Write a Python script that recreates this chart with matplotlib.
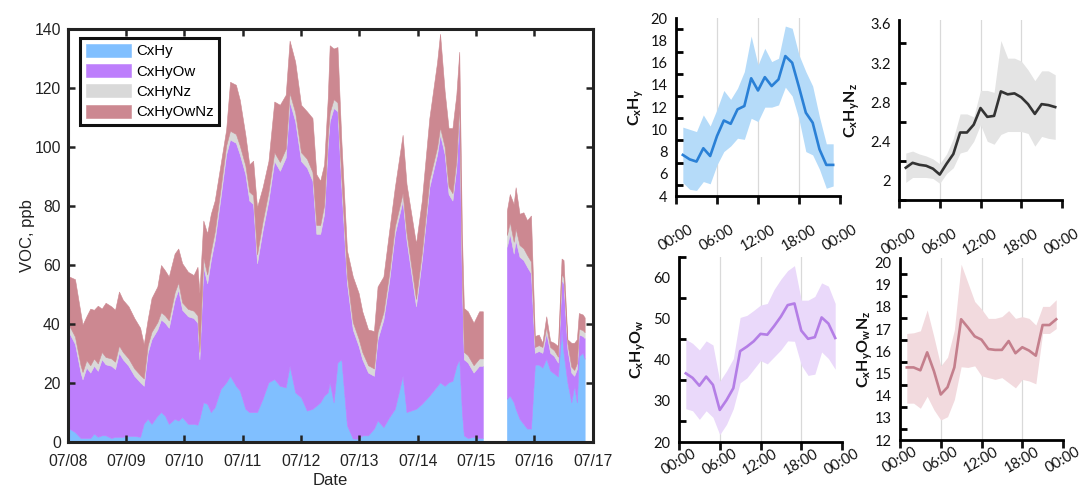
import numpy as np
import matplotlib
matplotlib.use('Agg')
import matplotlib.pyplot as plt
from matplotlib.ticker import MultipleLocator, FuncFormatter

nan = float('nan')

# ---------------- left panel: stacked VOC time series ----------------
hours = [0.8, 3.2, 5.5, 6.3, 7.9, 9.5, 11.0, 12.6, 14.2, 15.8, 18.1, 19.7, 21.3, 22.9,
         25.2, 27.6, 30.0, 31.5, 33.1, 34.7, 37.1, 38.6, 40.2, 41.8, 44.2, 45.7, 47.3,
         49.7, 52.0, 53.6, 54.4, 56.0, 57.6, 59.1, 60.7, 63.1, 65.4, 67.0, 69.4, 71.0,
         73.3, 74.9, 76.5, 78.1, 80.4, 82.8, 85.2, 87.5, 89.9, 91.5, 93.8, 96.2, 98.6,
         100.9, 102.5, 104.1, 105.7, 107.2, 108.0, 109.6, 111.2, 112.8, 115.1, 117.5,
         119.9, 121.4, 123.8, 126.2, 127.7, 130.1, 132.5, 134.8, 138.0, 139.6, 143.5,
         145.9, 149.0, 152.2, 153.4, 155.3, 156.9, 158.5, 160.1, 161.3, 162.4, 163.2,
         164.8, 167.2, 169.5, 171.0, 176.0, 180.9, 182.1, 183.7, 184.5, 186.1, 187.7,
         189.2, 190.8, 192.4, 194.0, 195.5, 197.1, 198.7, 200.3, 201.9, 203.4, 204.2,
         205.8, 207.4, 208.6, 209.7, 210.5, 212.1, 212.9]

cxhy = [4.3, 3.1, 1.1, 1.1, 1.1, 1.1, 2.6, 1.5, 2.0, 2.0, 1.1, 1.5, 1.5, 1.5,
        1.8, 1.8, 1.5, 6.0, 7.6, 5.9, 8.7, 9.9, 8.7, 5.9, 7.6, 7.0, 8.2,
        5.9, 5.9, 5.6, 7.6, 13.2, 12.7, 9.9, 11.6, 17.7, 20.0, 22.2, 18.8, 17.2,
        11.0, 9.9, 9.9, 9.9, 14.4, 20.0, 21.1, 18.8, 18.3, 25.6, 16.6, 14.9, 10.4,
        11.0, 12.1, 13.2, 15.5, 16.6, 20.0, 13.2, 26.7, 27.8, 5.4, 0.9,
        0.9, 2.0, 2.0, 4.3, 7.1, 4.8, 8.2, 11.0, 22.2, 9.9, 11.0,
        12.7, 15.5, 18.8, 20.0, 18.8, 20.0, 20.5, 25.6, 27.8, 9.9, 2.0,
        1.1, 1.5, 1.1, 1.1, nan, 14.4, 15.5, 13.2, 11.0, 7.6, 5.9,
        4.3, 4.3, 26.0, 26.0, 25.0, 28.0, 24.0, 23.0, 22.0, 37.9, 30.0,
        20.0, 13.2, 18.8, 13.2, 28.9, 30.0, 28.0]

cxhyow = [32.5, 29.9, 22.2, 19.9, 23.9, 22.2, 23.0, 22.4, 25.8, 24.1, 24.5, 23.0, 28.5, 26.3,
          23.8, 20.4, 18.5, 12.8, 22.4, 28.7, 29.2, 31.4, 31.5, 32.6, 40.4, 44.4, 36.4,
          36.5, 35.9, 34.6, 20.2, 46.0, 40.9, 51.6, 56.6, 65.1, 77.4, 80.2, 82.5, 80.2,
          79.6, 71.8, 70.6, 50.5, 57.2, 61.7, 74.0, 73.0, 78.0, 89.7, 92.0, 80.2, 82.5,
          77.4, 58.3, 57.2, 61.7, 84.1, 88.6, 99.9, 85.3, 58.4, 48.2, 37.0,
          31.4, 25.8, 21.3, 17.9, 27.5, 36.5, 46.5, 59.4, 59.5, 58.3, 34.8,
          48.8, 70.7, 78.6, 84.1, 78.6, 63.9, 61.2, 67.3, 84.2, 43.7, 25.8,
          25.6, 21.8, 24.5, 24.5, nan, 51.6, 54.9, 50.5, 57.2, 55.0, 55.6,
          54.9, 52.7, 4.0, 4.6, 5.0, 8.8, 6.0, 5.9, 4.7, 16.8, 23.6,
          11.2, 10.1, 3.4, 11.3, 7.3, 5.7, 7.0]

cxhynz = [2.5, 2.5, 2.5, 2.5, 2.5, 2.5, 2.5, 2.5, 2.5, 2.5, 2.5, 2.5, 2.5, 2.5,
          2.5, 2.5, 2.5, 2.5, 2.5, 2.5, 2.5, 2.5, 2.5, 2.5, 2.5, 2.5, 2.5,
          2.5, 2.5, 2.5, 2.5, 3.0, 3.0, 3.0, 3.0, 3.0, 3.0, 3.0, 3.0, 3.0,
          3.0, 3.0, 3.0, 3.0, 3.0, 3.0, 3.0, 3.0, 3.0, 3.0, 3.0, 3.0, 3.0,
          3.0, 3.0, 3.0, 3.0, 3.0, 3.0, 3.0, 3.0, 3.0, 2.5, 2.5,
          2.5, 2.5, 2.5, 2.5, 2.5, 2.5, 2.5, 2.5, 2.5, 2.5, 2.5,
          2.5, 2.5, 2.5, 2.5, 2.5, 2.5, 2.5, 2.5, 2.5, 2.5, 2.5,
          2.5, 2.5, 2.5, 2.5, nan, 4.0, 4.0, 4.0, 4.0, 4.0, 4.0,
          4.0, 4.0, 2.0, 2.0, 2.0, 2.0, 2.0, 2.0, 2.0, 2.0, 2.0,
          2.0, 2.0, 2.0, 2.0, 2.0, 2.0, 2.0]

cxhyownz = [16.6, 19.5, 17.7, 16.1, 14.9, 19.2, 16.5, 19.6, 14.7, 18.4, 17.7, 17.6, 18.3, 17.7,
            17.7, 17.1, 16.0, 11.6, 8.8, 11.5, 12.1, 16.0, 15.3, 14.9, 13.2, 11.5, 13.3,
            12.6, 12.1, 16.5, 20.0, 12.7, 13.9, 12.7, 10.5, 8.2, 5.4, 16.6, 16.7, 15.5,
            10.4, 9.3, 11.7, 16.0, 11.6, 10.4, 17.2, 19.4, 18.3, 17.7, 17.2, 16.1, 16.1,
            18.3, 17.2, 15.0, 13.8, 12.7, 22.8, 17.2, 18.8, 12.7, 8.7, 15.5,
            15.5, 13.8, 12.1, 12.7, 15.4, 12.1, 14.4, 13.3, 19.8, 16.6, 18.8,
            17.7, 21.0, 28.9, 31.7, 18.8, 19.9, 22.1, 22.2, 17.7, 14.3, 14.9,
            14.9, 14.4, 16.0, 16.0, nan, 8.3, 9.5, 12.8, 14.0, 10.6, 12.2,
            11.8, 15.6, 3.7, 3.6, 1.4, 3.6, 2.0, 2.5, 3.6, 5.3, 5.9,
            1.4, 8.1, 9.2, 8.1, 5.3, 5.3, 5.0]

series_names = ['CxHy', 'CxHyOw', 'CxHyNz', 'CxHyOwNz']
day_labels = ['07/08', '07/09', '07/10', '07/11', '07/12', '07/13', '07/14', '07/15', '07/16', '07/17']

# ---------------- right panels: diurnal profiles ----------------
hod = list(range(1, 24))
hod_labels = ['00:00', '06:00', '12:00', '18:00', '00:00']

cxhy_mean = [7.7, 7.3, 7.1, 8.3, 7.6, 9.4, 10.8, 10.5, 11.8, 12.1, 14.6, 13.5, 14.7, 13.9,
             14.5, 16.6, 16.0, 13.8, 11.5, 10.6, 8.2, 6.8, 6.8]
cxhy_hi = [10.2, 10.0, 9.8, 11.3, 10.3, 11.8, 13.5, 12.7, 13.7, 15.2, 18.4, 15.8, 17.3, 16.1,
           16.4, 19.3, 19.1, 16.7, 15.2, 13.9, 11.1, 8.7, 8.7]
cxhy_lo = [5.2, 4.6, 4.5, 5.3, 5.1, 6.8, 8.0, 8.5, 9.2, 9.1, 11.0, 10.7, 12.0, 12.0,
           12.2, 13.8, 13.0, 10.9, 8.0, 7.7, 6.4, 4.7, 4.9]

cxhynz_mean = [2.13, 2.18, 2.16, 2.15, 2.12, 2.06, 2.17, 2.27, 2.49, 2.49, 2.57, 2.74, 2.65, 2.66,
               2.91, 2.88, 2.89, 2.85, 2.78, 2.68, 2.78, 2.77, 2.75]
cxhynz_hi = [2.28, 2.30, 2.27, 2.25, 2.22, 2.17, 2.27, 2.43, 2.68, 2.68, 2.65, 2.92, 2.92, 2.90,
             3.43, 3.25, 3.25, 3.22, 3.13, 3.02, 3.12, 3.12, 3.08]
cxhynz_lo = [1.98, 2.03, 2.03, 2.03, 2.02, 1.97, 2.07, 2.13, 2.28, 2.30, 2.40, 2.57, 2.40, 2.37,
             2.47, 2.50, 2.50, 2.50, 2.48, 2.35, 2.45, 2.43, 2.42]

cxhyow_mean = [36.7, 35.6, 33.7, 35.9, 33.9, 27.8, 30.2, 33.1, 42.1, 43.2, 44.5, 46.3, 46.1, 48.2,
               50.5, 53.3, 53.7, 47.1, 45.1, 45.5, 50.3, 48.8, 45.3]
cxhyow_hi = [45.0, 44.0, 42.4, 44.6, 43.6, 34.8, 37.3, 40.3, 50.3, 50.8, 52.0, 53.3, 53.7, 57.1,
             59.6, 61.7, 62.9, 54.5, 54.5, 55.4, 58.7, 57.9, 53.7]
cxhyow_lo = [28.1, 27.6, 25.5, 27.6, 26.0, 21.8, 24.3, 28.1, 34.4, 35.6, 37.7, 39.8, 39.0, 40.7,
             42.4, 44.6, 44.5, 38.7, 36.2, 36.5, 41.9, 40.3, 37.7]

cxhyownz_mean = [15.27, 15.27, 15.14, 15.95, 15.10, 14.05, 14.38, 15.27, 17.44, 17.07, 16.67, 16.52,
                 16.10, 16.06, 16.06, 16.46, 15.91, 16.18, 16.03, 15.80, 17.18, 17.18, 17.44]
cxhyownz_hi = [16.80, 16.83, 16.92, 17.86, 16.64, 15.34, 15.73, 16.95, 19.92, 19.08, 18.24, 17.90,
               17.48, 17.48, 17.56, 17.83, 17.48, 17.56, 17.48, 17.18, 18.02, 18.02, 18.32]
cxhyownz_lo = [13.66, 13.66, 13.43, 13.97, 13.36, 12.90, 13.05, 13.82, 15.30, 15.27, 15.34, 14.89,
               14.81, 14.73, 14.81, 14.58, 14.35, 14.73, 14.66, 14.53, 16.80, 16.80, 17.02]

# ---------------- styling ----------------
plt.rcParams['font.family'] = ['Liberation Sans', 'DejaVu Sans']
plt.rcParams['mathtext.fontset'] = 'custom'
plt.rcParams['mathtext.rm'] = 'Lato'
plt.rcParams['mathtext.bf'] = 'Lato:bold'
plt.rcParams['mathtext.it'] = 'Lato:italic'

W, H = 1084, 487
fig = plt.figure(figsize=(W / 100, H / 100), dpi=100)


def rect(x0, y0, x1, y1):
    return [x0 / W, 1 - y1 / H, (x1 - x0) / W, (y1 - y0) / H]


stack_colors = ['#80bfff', '#bd7efc', '#d9d9d9', '#cc8891']

ax = fig.add_axes(rect(67.7, 29.3, 592.7, 441.7))
ax.stackplot(hours, cxhy, cxhyow, cxhynz, cxhyownz, colors=stack_colors,
             labels=series_names, linewidth=0.4, edgecolor='face')
ax.set_xlim(0, 216)
ax.set_ylim(0, 140)
ax.set_xticks([24 * i for i in range(len(day_labels))])
ax.set_xticklabels(day_labels)
ax.yaxis.set_major_locator(MultipleLocator(20))
ax.tick_params(direction='in', top=True, right=True, length=5, width=1.8,
               labelsize=11.3, colors='#222222', pad=9)
ax.tick_params(axis='y', pad=5)
for s in ax.spines.values():
    s.set_linewidth(2.2)
    s.set_color('#222222')
ax.set_xlabel('Date', fontsize=12, labelpad=3, color='#222222')
ax.set_ylabel('VOC, ppb', fontsize=12, color='#222222')
ax.yaxis.set_label_coords(-0.063, 0.5)
leg = ax.legend(loc='upper left', bbox_to_anchor=(0.0234, 0.979), borderaxespad=0,
                fontsize=10.8, handlelength=3.0, handleheight=0.95, labelspacing=0.38,
                handletextpad=0.35, borderpad=0.38, fancybox=False, framealpha=1)
leg.get_frame().set_edgecolor('#111111')
leg.get_frame().set_linewidth(2.2)


def diurnal(r, mean, lo, hi, lc, bc, ylim, major, minor, label, labx, xpad):
    a = fig.add_axes(r)
    for v in (6, 12, 18):
        a.axvline(v, color='#d9d9d9', lw=0.9, zorder=0)
    a.fill_between(hod, lo, hi, color=bc, lw=0, zorder=1)
    a.plot(hod, mean, color=lc, lw=1.9, zorder=2)
    a.set_xlim(0, 24)
    a.set_ylim(*ylim)
    a.spines['top'].set_visible(False)
    a.spines['right'].set_visible(False)
    a.spines['left'].set_linewidth(2.0)
    a.spines['bottom'].set_linewidth(2.0)
    a.set_xticks([0, 6, 12, 18, 24])
    a.set_xticklabels(hod_labels, rotation=30, ha='center',
                      fontfamily=['Lato', 'DejaVu Sans'])
    a.tick_params(axis='x', direction='out', length=6, width=2.0, labelsize=10.5,
                  pad=xpad, colors='#111111')
    a.yaxis.set_major_locator(MultipleLocator(major))
    a.yaxis.set_minor_locator(MultipleLocator(minor))
    a.yaxis.set_major_formatter(FuncFormatter(lambda v, p: f'{v:g}'))
    a.tick_params(axis='y', which='major', length=0, labelsize=10.5, pad=6, colors='#111111')
    a.tick_params(axis='y', which='minor', direction='in', length=5, width=2.0)
    for t in a.get_yticklabels():
        t.set_fontfamily(['Lato', 'DejaVu Sans'])
    a.set_ylabel(label, fontsize=11.5, color='#111111')
    a.yaxis.set_label_coords(labx, 0.5)
    return a


diurnal(rect(676, 18.3, 840, 196), cxhy_mean, cxhy_lo, cxhy_hi, '#2a80d6', '#b5dbf9',
        (4, 20), 2, 1, r'$\mathbf{C_xH_y}$', -0.18, 13)
diurnal(rect(899, 20, 1062, 200), cxhynz_mean, cxhynz_lo, cxhynz_hi, '#333333', '#e4e4e4',
        (1.8, 3.64), 0.4, 0.2, r'$\mathbf{C_xH_yN_z}$', -0.23, 13)
diurnal(rect(679, 257, 842, 442), cxhyow_mean, cxhyow_lo, cxhyow_hi, '#b47ee6', '#ead9fa',
        (20, 65), 10, 5, r'$\mathbf{C_xH_yO_w}$', -0.19, -3)
diurnal(rect(900, 258, 1063, 440), cxhyownz_mean, cxhyownz_lo, cxhyownz_hi, '#c47f8c', '#f2dade',
        (12, 20.2), 1, 0.5, r'$\mathbf{C_xH_yO_wN_z}$', -0.155, -3)

fig.savefig('out.png', dpi=100)
